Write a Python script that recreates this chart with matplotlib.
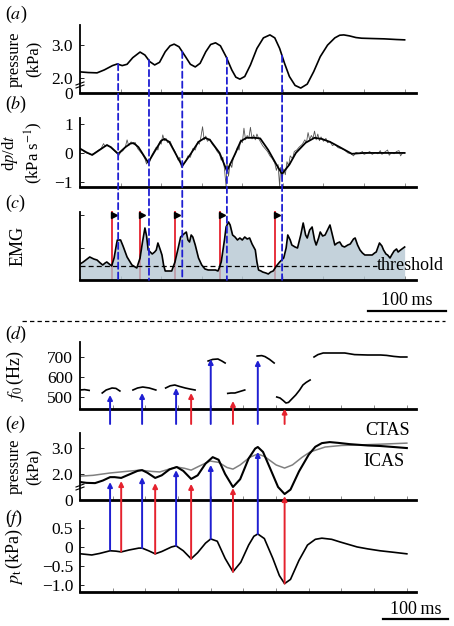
import numpy as np
import matplotlib
matplotlib.use('Agg')
import matplotlib.pyplot as plt
import matplotlib.transforms as mtransforms
from matplotlib.patches import ConnectionPatch
from matplotlib.lines import Line2D

plt.rcParams['font.family'] = ['Liberation Serif', 'DejaVu Serif']
plt.rcParams['mathtext.fontset'] = 'stix'
plt.rcParams['font.size'] = 12

BLUE = '#1f1fd2'
RED = '#e5222e'

# ---- top half (a-c), time in ms ----
a_t = [0, 10, 21, 30, 40, 46, 52, 58, 65, 74, 80, 86, 92, 98, 105, 111, 116, 122, 130, 136,
       142, 148, 155, 161, 167, 173, 180, 187, 192, 197, 203, 210, 218, 226, 234, 240, 246,
       252, 258, 265, 272, 280, 288, 296, 305, 314, 320, 325, 332, 340, 347, 360, 375, 390, 400]
a_p = [2.19, 2.17, 2.16, 2.25, 2.38, 2.43, 2.38, 2.42, 2.62, 2.79, 2.70, 2.50, 2.40, 2.48, 2.80,
       2.98, 3.03, 2.95, 2.65, 2.42, 2.34, 2.45, 2.80, 3.02, 3.07, 2.98, 2.65, 2.25, 2.03, 1.97,
       2.05, 2.40, 2.90, 3.22, 3.31, 3.22, 2.90, 2.45, 2.05, 1.78, 1.70, 1.82, 2.20, 2.65, 3.00,
       3.22, 3.30, 3.31, 3.28, 3.23, 3.21, 3.20, 3.19, 3.17, 3.16]

b_t = [0, 8, 15, 24, 33, 38, 47, 56, 62, 66, 72, 84, 92, 100, 104, 110, 126, 136, 146, 154,
       160, 172, 181, 190, 198, 205, 215, 222, 232, 242, 249, 258, 266, 278, 289, 298, 308,
       320, 335, 350, 380, 400]
b_v = [0.15, 0.02, -0.07, 0.10, 0.27, 0.20, -0.03, 0.20, 0.32, 0.34, 0.20, -0.33, 0.05, 0.42,
       0.48, 0.38, -0.45, -0.05, 0.38, 0.52, 0.45, 0.00, -0.62, -0.10, 0.40, 0.52, 0.52, 0.50,
       0.10, -0.40, -0.72, -0.40, 0.00, 0.35, 0.52, 0.48, 0.38, 0.20, -0.03, 0.00, 0.00, 0.00]

b_raw_t = [0, 3, 6, 10, 14, 18, 22, 26, 29, 31, 34, 38, 42, 45, 48, 50, 53, 56, 58, 60, 63, 66,
           68, 71, 74, 77, 80, 82, 84, 86, 88, 91, 94, 96, 98, 100, 102, 104, 106, 108, 111, 114,
           117, 119, 121, 123, 125, 127, 130, 133, 136, 139, 142, 145, 147, 149, 151, 153, 155,
           157, 160, 163, 166, 169, 172, 174, 176, 178, 180, 181, 183, 185, 187, 189, 192, 194,
           196, 198, 200, 202, 204, 206, 208, 210, 212, 214, 216, 218, 220, 222, 225, 228, 231,
           234, 237, 240, 242, 244, 246, 247, 249, 251, 253, 255, 257, 259, 262, 264, 267, 270,
           274, 277, 279, 281, 283, 285, 287, 289, 291, 293, 295, 297, 300, 303, 305, 308, 311,
           314, 318, 322, 326, 330, 334, 337, 340, 344, 348, 350, 354, 357, 360, 364, 367, 370,
           372, 375, 379, 381, 384, 387, 390, 393, 395, 398, 400]
b_raw_v = [0.12, 0.10, 0.02, -0.02, -0.06, 0.00, 0.08, 0.15, 0.32, 0.22, 0.28, 0.18, 0.08, 0.00,
           -0.08, 0.02, 0.08, 0.22, 0.45, 0.25, 0.38, 0.30, 0.36, 0.15, 0.05, -0.05, -0.20, -0.38,
           -0.25, -0.30, -0.10, 0.05, 0.20, 0.10, 0.38, 0.30, 0.62, 0.42, 0.50, 0.35, 0.40, 0.20,
           0.05, -0.10, -0.25, -0.15, -0.50, -0.38, -0.30, -0.10, -0.15, 0.15, 0.10, 0.38, 0.30,
           0.55, 0.90, 0.45, 0.58, 0.40, 0.48, 0.30, 0.20, 0.05, -0.05, -0.25, -0.15, -0.55, -1.15,
           -0.30, -0.80, -0.35, -0.50, -0.15, 0.00, 0.20, 0.10, 0.45, 0.35, 0.85, 0.45, 0.60, 0.50,
           0.88, 0.48, 0.62, 0.45, 0.65, 0.50, 0.40, 0.25, 0.15, 0.05, -0.10, -0.20, -0.35, -0.60,
           -0.40, -1.15, -0.50, -0.90, -0.55, -0.75, -0.30, -0.45, -0.10, -0.20, 0.05, 0.10, 0.20,
           0.30, 0.45, 0.35, 0.70, 0.45, 0.60, 0.50, 0.75, 0.45, 0.65, 0.42, 0.55, 0.40, 0.50,
           0.35, 0.40, 0.25, 0.30, 0.18, 0.15, 0.10, 0.00, -0.03, -0.10, 0.02, -0.02, 0.05, -0.05,
           0.00, 0.05, -0.05, 0.02, -0.03, 0.08, -0.05, 0.02, 0.10, -0.08, 0.02, -0.03, 0.05, 0.08,
           -0.10, 0.02, 0.00]

emg_t = [0, 4, 12, 17, 21, 25, 28, 31, 33, 36, 39, 42, 45, 46, 50, 53, 58, 64, 70, 74, 77, 80,
         82, 84, 89, 92, 94, 96, 99, 101, 103, 105, 113, 117, 121, 124, 128, 131, 133, 135, 137,
         139, 142, 146, 150, 154, 158, 167, 170, 172, 174, 178, 180, 183, 185, 188, 191, 194,
         197, 200, 203, 206, 209, 212, 216, 218, 220, 223, 225, 229, 232, 235, 238, 242, 246,
         251, 254, 256, 259, 261, 265, 268, 272, 275, 278, 280, 283, 286, 289, 291, 294, 296,
         299, 302, 305, 308, 311, 314, 317, 320, 323, 326, 330, 333, 337, 339, 342, 345, 348,
         351, 356, 360, 363, 365, 369, 372, 374, 377, 379, 382, 384, 387, 390, 392, 395, 400]
emg_v = [16, 18, 23, 21, 20, 17, 15, 17, 18, 16, 14, 22, 36, 40, 40, 34, 23, 15, 12, 22, 38, 52,
         44, 30, 26, 28, 30, 37, 30, 25, 15, 9, 9, 18, 32, 43, 46, 48, 40, 38, 45, 43, 35, 22, 15,
         11, 10, 10, 9, 13, 18, 40, 53, 58, 55, 45, 43, 40, 42, 40, 43, 41, 42, 36, 30, 18, 10, 9,
         8, 7, 6, 8, 9, 14, 18, 22, 32, 45, 40, 35, 33, 32, 45, 57, 45, 42, 50, 53, 40, 35, 42, 48,
         44, 45, 50, 55, 45, 35, 37, 38, 34, 33, 35, 36, 41, 42, 35, 30, 27, 25, 25, 25, 27, 28,
         37, 34, 30, 26, 25, 22, 25, 29, 31, 28, 30, 33]
threshold = 14
onset_t = [39, 74, 117, 172, 240]          # red EMG onsets
peak_t = [47, 85, 126, 181, 249]           # blue dashed markers
peak_p = [2.43, 2.55, 2.80, 2.62, 2.68]

# ---- bottom half (d-f), time in ms ----
f0_segments = [
    ([0, 7, 14], [535, 537, 533]),
    ([34, 40, 49, 55, 61], [520, 535, 545, 543, 530]),
    ([81, 88, 96, 106, 116], [535, 545, 550, 545, 535]),
    ([131, 138, 145, 152, 161, 168, 176], [545, 556, 560, 553, 545, 540, 535]),
    ([196, 203, 211, 217, 222], [680, 688, 690, 680, 670]),
    ([226, 231, 237, 245, 252], [518, 520, 520, 528, 535]),
    ([271, 278, 283, 290, 297], [705, 707, 702, 688, 670]),
    ([301, 306, 311, 315, 319, 324, 330, 336, 341, 346, 352],
     [500, 495, 482, 470, 473, 490, 510, 535, 560, 573, 585]),
    ([358, 364, 372, 390, 405, 420, 440, 460, 469, 480, 490, 500],
     [700, 712, 720, 720, 720, 712, 710, 710, 708, 703, 700, 700]),
]

ctas_t = [1, 10, 23, 35, 46, 53, 63, 75, 88, 95, 103, 115, 125, 137, 148, 158, 170, 180, 192,
          203, 212, 222, 234, 245, 258, 268, 272, 280, 292, 303, 313, 322, 335, 350, 360, 370,
          382, 395, 413, 440, 459, 480, 500]
ctas_p = [1.69, 1.66, 1.65, 1.75, 1.88, 1.88, 1.85, 1.98, 2.12, 2.15, 2.05, 1.85, 1.95, 2.18,
          2.27, 2.12, 1.81, 1.95, 2.40, 2.65, 2.55, 2.00, 1.50, 1.80, 2.60, 2.98, 3.04, 2.85,
          2.15, 1.50, 1.23, 1.40, 2.10, 2.75, 3.05, 3.19, 3.23, 3.20, 3.15, 3.10, 3.08, 3.04, 3.00]
icas_t = [1, 20, 46, 70, 92, 110, 122, 135, 148, 160, 170, 182, 199, 212, 225, 234, 245, 260,
          272, 282, 300, 313, 325, 340, 352, 375, 400, 428, 460, 500]
icas_p = [1.92, 1.95, 2.04, 2.10, 2.15, 2.10, 2.08, 2.18, 2.27, 2.22, 2.15, 2.30, 2.50, 2.45,
          2.25, 2.19, 2.35, 2.65, 2.77, 2.68, 2.35, 2.23, 2.35, 2.65, 2.85, 3.04, 3.10, 3.12,
          3.15, 3.19]

pt_t = [1, 18, 30, 46, 55, 63, 75, 90, 95, 105, 115, 125, 140, 147, 158, 170, 180, 192, 200,
        210, 222, 234, 246, 258, 266, 272, 282, 295, 305, 313, 322, 335, 348, 360, 370, 385,
        398, 412, 424, 440, 459, 480, 500]
pt_v = [-0.18, -0.21, -0.17, -0.10, -0.11, -0.13, -0.08, -0.03, -0.03, -0.10, -0.18, -0.12,
        0.00, 0.03, -0.10, -0.31, -0.15, 0.10, 0.21, 0.15, -0.30, -0.65, -0.40, 0.05, 0.28,
        0.34, 0.22, -0.30, -0.75, -0.96, -0.85, -0.35, 0.05, 0.20, 0.23, 0.20, 0.13, 0.06, 0.00,
        -0.05, -0.10, -0.14, -0.18]

blue_t = [46, 95, 147, 200, 272]
blue_f0 = [510, 520, 545, 690, 685]
blue_e = [1.69, 1.88, 2.15, 2.35, 2.85]
blue_f = [-0.07, -0.03, 0.03, 0.21, 0.34]
red_t = [63, 115, 170, 234, 313]
red_f0 = [None, None, 520, 480, 442]
red_e = [1.73, 1.65, 1.62, 1.46, 1.15]
red_f = [-0.12, -0.18, -0.31, -0.65, -0.96]

A_OFF = 1.55   # axis break offsets
E_OFF = 1.0

W, H = 454, 626
fig = plt.figure(figsize=(W / 100, H / 100), dpi=100)


def box(top, bottom, left=80, right=416):
    return [left / W, 1 - bottom / H, (right - left) / W, (bottom - top) / H]


def style(ax, xmax):
    for s in ['top', 'right']:
        ax.spines[s].set_visible(False)
    ax.spines['left'].set_linewidth(1.3)
    ax.spines['bottom'].set_linewidth(2.0)
    ax.set_xlim(0, xmax)
    ax.set_xticks(np.arange(0, xmax, 50))
    ax.tick_params(axis='x', direction='in', length=3, width=0.6, color='#777',
                   labelbottom=False)
    ax.tick_params(axis='y', direction='in', length=3, width=0.6, pad=5, labelsize=12.5)


def break_mark(ax, yfrac, wpx, hpx):
    for dy in (-1.5, 1.5):
        ax.plot([-4 / wpx, 4 / wpx], [yfrac + (dy - 1.5) / hpx, yfrac + (dy + 1.5) / hpx],
                transform=ax.transAxes, color='k', lw=0.8, clip_on=False)


ax_a = fig.add_axes(box(25, 93))
ax_b = fig.add_axes(box(118, 187))
ax_c = fig.add_axes(box(212, 280))
ax_d = fig.add_axes(box(342, 409))
ax_e = fig.add_axes(box(433, 500))
ax_f = fig.add_axes(box(521, 592))
for ax in (ax_a, ax_b, ax_c):
    style(ax, 414)
for ax in (ax_d, ax_e, ax_f):
    style(ax, 514)

# (a)
ax_a.plot(a_t, np.array(a_p) - A_OFF, 'k', lw=1.2)
ax_a.set_ylim(0, 2.06)
ax_a.set_yticks([0, 2.0 - A_OFF, 3.0 - A_OFF])
ax_a.set_yticklabels(['0', '2.0', '3.0'])
ax_a.set_ylabel('pressure\n(kPa)', linespacing=1.2)
ax_a.yaxis.set_label_coords(-0.115, 0.5)
break_mark(ax_a, 8 / 68, 336, 68)

# (b)
ax_b.plot(b_raw_t, b_raw_v, color='#555555', lw=0.6)
ax_b.plot(b_t, b_v, 'k', lw=1.3)
ax_b.set_ylim(-1.17, 1.2)
ax_b.set_yticks([-1, 0, 1])
ax_b.set_ylabel('d$p$/d$t$\n(kPa s$^{-1}$)', linespacing=1.15)
ax_b.yaxis.set_label_coords(-0.105, 0.5)

# (c)
ax_c.vlines(onset_t, 0, 69, color=RED, lw=1.3, zorder=1, clip_on=False)
ax_c.fill_between(emg_t, 0, emg_v, color='#b1c4d0', alpha=0.75, lw=0, zorder=2)
ax_c.plot(emg_t, emg_v, 'k', lw=1.2, zorder=3)
ax_c.plot([0, 366], [threshold, threshold], color='k', lw=0.9, dashes=(4, 2.5), zorder=3,
          clip_on=False)
ax_c.text(366, threshold, 'threshold', ha='left', va='center', fontsize=13)
ax_c.plot(np.array(onset_t) + 3, [65.5] * len(onset_t), ls='none', marker='>', ms=3.8,
          color='k', zorder=4, clip_on=False)
ax_c.set_ylim(0, 68)
ax_c.set_yticks([32, 65])
ax_c.set_yticklabels([])
ax_c.set_ylabel('EMG', fontsize=13)
ax_c.yaxis.set_label_coords(-0.16, 0.5)
for t, p in zip(peak_t, peak_p):
    con = ConnectionPatch(xyA=(t, p - A_OFF), coordsA=ax_a.transData,
                          xyB=(t, 0), coordsB=ax_c.transData,
                          color=BLUE, lw=1.3, linestyle=(0, (3.5, 2)), zorder=10)
    fig.add_artist(con)

tr_c = mtransforms.blended_transform_factory(ax_c.transData, ax_c.transAxes)
ax_c.plot([355, 451], [-0.456, -0.456], color='k', lw=1.6, transform=tr_c, clip_on=False)
ax_c.text(403, -0.30, '100\u2009ms', ha='center', va='center', transform=tr_c, fontsize=13)

fig.add_artist(Line2D([22 / W, 445 / W], [1 - 321 / H] * 2, transform=fig.transFigure,
                      color='k', lw=0.9, ls=(0, (3.5, 2.5))))

# (d)
for st, sv in f0_segments:
    ax_d.plot(st, sv, 'k', lw=1.2)
ax_d.set_ylim(440, 775)
ax_d.set_yticks([500, 600, 700])
ax_d.set_ylabel('$f_0\\,$(Hz)', fontsize=13)
ax_d.yaxis.set_label_coords(-0.16, 0.5)
arrow_kw = dict(arrowstyle='-|>', lw=1.4, mutation_scale=7, shrinkA=0, shrinkB=0)
for t, v in zip(blue_t, blue_f0):
    ax_d.annotate('', xy=(t, v), xytext=(t, 365), annotation_clip=False,
                  arrowprops=dict(color=BLUE, **arrow_kw))
for t, v in zip(red_t, red_f0):
    if v is not None:
        ax_d.annotate('', xy=(t, v), xytext=(t, 365), annotation_clip=False,
                      arrowprops=dict(color=RED, **arrow_kw))

# (e)
ax_e.plot(icas_t, np.array(icas_p) - E_OFF, color='#808080', lw=1.1)
ax_e.plot(ctas_t, np.array(ctas_p) - E_OFF, 'k', lw=1.5)
ax_e.set_ylim(0, 2.58)
ax_e.set_yticks([0, 2.0 - E_OFF, 3.0 - E_OFF])
ax_e.set_yticklabels(['0', '2.0', '3.0'])
ax_e.set_ylabel('pressure\n(kPa)', linespacing=1.2)
ax_e.yaxis.set_label_coords(-0.115, 0.5)
ax_e.text(436, 2.69, 'CTAS', ha='left', va='center', fontsize=13)
ax_e.text(434, 1.5, 'ICAS', ha='left', va='center', fontsize=13)
break_mark(ax_e, 13 / 67, 336, 67)

# (f)
ax_f.plot(pt_t, pt_v, 'k', lw=1.2)
ax_f.set_ylim(-1.18, 0.68)
ax_f.set_yticks([-1.0, -0.5, 0, 0.5])
ax_f.set_yticklabels(['\u22121.0', '\u22120.5', '0', '0.5'])
ax_f.set_ylabel('$p_{\\mathrm{t}}\\,$(kPa)', fontsize=13)
ax_f.yaxis.set_label_coords(-0.165, 0.5)

for tt, ee, ff, col in [(blue_t, blue_e, blue_f, BLUE), (red_t, red_e, red_f, RED)]:
    for t, e, f in zip(tt, ee, ff):
        con = ConnectionPatch(xyA=(t, f), coordsA=ax_f.transData,
                              xyB=(t, e - E_OFF), coordsB=ax_e.transData,
                              color=col, zorder=10, **arrow_kw)
        fig.add_artist(con)

tr_f = mtransforms.blended_transform_factory(ax_f.transData, ax_f.transAxes)
ax_f.plot([463, 563], [-0.38, -0.38], color='k', lw=1.6, transform=tr_f, clip_on=False)
ax_f.text(513, -0.24, '100\u2009ms', ha='center', va='center', transform=tr_f, fontsize=13)

for lab, y in zip('abcdef', [14, 104, 203, 334, 424, 518]):
    fig.text(5 / W, 1 - y / H, '($\\mathit{%s}$)' % lab, ha='left', va='center', fontsize=13)

fig.savefig('out.png', dpi=100)
